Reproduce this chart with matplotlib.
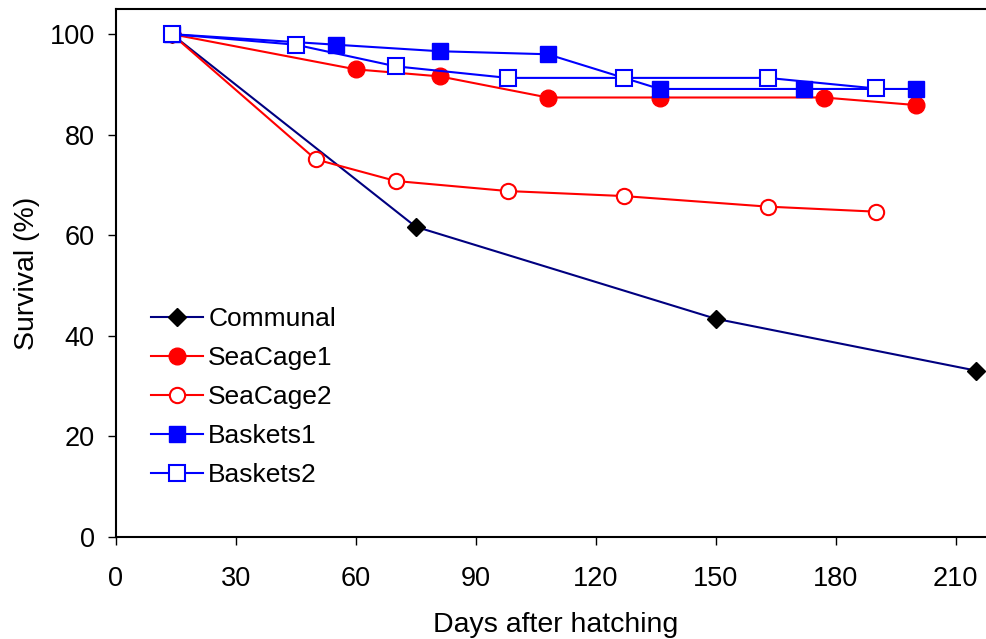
import matplotlib
matplotlib.use("Agg")
from matplotlib import pyplot as plt

# - - - - - - - DATA - - - - - - -
communal_x = [14, 75, 150, 215]
communal_y = [100, 61.7, 43.4, 33.1]

seacage1_x = [14, 60, 81, 108, 136, 177, 200]
seacage1_y = [100, 93.0, 91.6, 87.4, 87.4, 87.4, 85.9]

seacage2_x = [14, 50, 70, 98, 127, 163, 190]
seacage2_y = [100, 75.1, 70.8, 68.8, 67.8, 65.7, 64.7]

baskets1_x = [14, 55, 81, 108, 136, 172, 200]
baskets1_y = [100, 97.9, 96.6, 96.0, 89.1, 89.1, 89.1]

baskets2_x = [14, 45, 70, 98, 127, 163, 190]
baskets2_y = [100, 97.9, 93.6, 91.3, 91.3, 91.3, 89.2]

x_ticks = [0, 30, 60, 90, 120, 150, 180, 210]
y_ticks = [0, 20, 40, 60, 80, 100]

# - - - - - - - PLOT - - - - - - -
plt.rcParams['font.family'] = ['Liberation Sans', 'DejaVu Sans']
LABEL_FS = 20.5
TICK_FS = 19.5
LEG_FS = 19

fig = plt.figure(figsize=(9.87, 6.39), dpi=100)
W, H = 987, 639
left, right, top, bottom = 115.7, 995.7, 9, 537
ax = fig.add_axes([left / W, 1 - bottom / H, (right - left) / W, (bottom - top) / H])

lw = 1.5
ax.plot(communal_x, communal_y, color='#000080', lw=lw, marker='D', ms=9,
        mfc='black', mec='black', label='Communal', zorder=3)
ax.plot(seacage1_x, seacage1_y, color='#FF0000', lw=lw, marker='o', ms=12,
        mfc='#FF0000', mec='#FF0000', label='SeaCage1', zorder=3)
ax.plot(seacage2_x, seacage2_y, color='#FF0000', lw=lw, marker='o', ms=11,
        mfc='white', mec='#FF0000', mew=1.5, label='SeaCage2', zorder=3)
ax.plot(baskets1_x, baskets1_y, color='#0000FF', lw=lw, marker='s', ms=11,
        mfc='#0000FF', mec='#0000FF', label='Baskets1', zorder=4)
ax.plot(baskets2_x, baskets2_y, color='#0000FF', lw=lw, marker='s', ms=11,
        mfc='white', mec='#0000FF', mew=1.5, label='Baskets2', zorder=4)

ax.set_xlim(0, 220)
ax.set_ylim(0, 105)
ax.set_xticks(x_ticks)
ax.set_yticks(y_ticks)
ax.tick_params(direction='out', length=6, width=1, labelsize=TICK_FS)
ax.tick_params(axis='x', pad=15)
ax.tick_params(axis='y', pad=9)

for s in ax.spines.values():
    s.set_linewidth(1.5)
ax.spines['right'].set_visible(False)

ax.set_xlabel('Days after hatching', fontsize=LABEL_FS, labelpad=14.5)
ax.set_ylabel('Survival (%)', fontsize=LABEL_FS, labelpad=7)

ax.legend(loc='upper left', bbox_to_anchor=(0.028, 0.456), frameon=False,
          fontsize=LEG_FS, handlelength=1.97, handletextpad=0.2,
          labelspacing=0.57, borderaxespad=0)

fig.savefig('out.png', dpi=100)
